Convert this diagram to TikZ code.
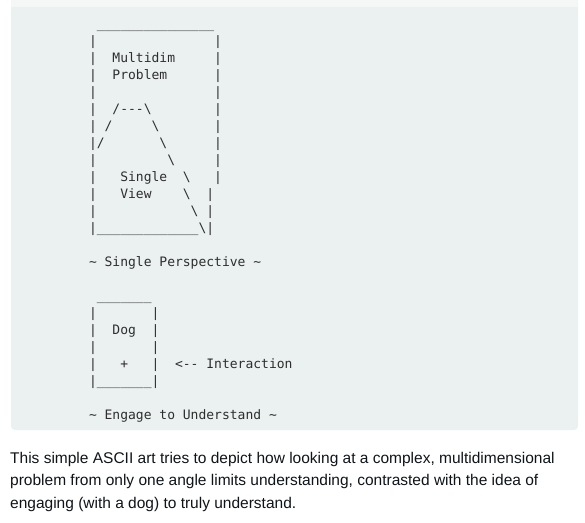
\documentclass[tikz,border=0pt]{standalone}
\usepackage{fontspec}
\setmainfont{Liberation Sans}
\setmonofont{DejaVu Sans Mono}
\usetikzlibrary{positioning}

\definecolor{codebg}{HTML}{EBF0F0}
\definecolor{barbg}{HTML}{F5F7F7}
\definecolor{codefg}{HTML}{2E2E2E}
\definecolor{bodyfg}{HTML}{0F1419}

\begin{document}
\begin{tikzpicture}[x=1pt,y=-1pt,
  every node/.style={inner sep=0pt,anchor=base west},
  ascii/.style={font=\ttfamily\fontsize{13}{17}\selectfont,text=codefg},
  prose/.style={font=\fontsize{15.5}{22}\selectfont,text=bodyfg}]
\useasboundingbox (0,0) rectangle (585,522);
\fill[codebg,rounded corners=4pt] (11,-10) rectangle (578,430);
\fill[barbg] (11,0) rectangle (578,7);

% the many-sided problem, seen from one side
\node[ascii] (lid)    at (88.8,28)  {~\_\_\_\_\_\_\_\_\_\_\_\_\_\_\_};
\node[ascii] (side1)  at (88.8,45)  {|~~~~~~~~~~~~~~~|};
\node[ascii] (multi)  at (88.8,62)  {|~~Multidim~~~~~|};
\node[ascii] (prob)   at (88.8,79)  {|~~Problem~~~~~~|};
\node[ascii] (side2)  at (88.8,96)  {|~~~~~~~~~~~~~~~|};
\node[ascii] (peak)   at (88.8,113) {|~~/---\textbackslash~~~~~~~~|};
\node[ascii] (slopeA) at (88.8,130) {|~/~~~~~\textbackslash~~~~~~~|};
\node[ascii] (slopeB) at (88.8,147) {|/~~~~~~~\textbackslash~~~~~~|};
\node[ascii] (slopeC) at (88.8,164) {|~~~~~~~~~\textbackslash~~~~~|};
\node[ascii] (single) at (88.8,181) {|~~~Single~~\textbackslash~~~|};
\node[ascii] (view)   at (88.8,198) {|~~~View~~~~\textbackslash~~|};
\node[ascii] (slopeD) at (88.8,215) {|~~~~~~~~~~~~\textbackslash~|};
\node[ascii] (base)   at (88.8,232) {|\_\_\_\_\_\_\_\_\_\_\_\_\_\textbackslash|};
\node[ascii] (persp)  at (88.8,266) {\textasciitilde~Single~Perspective~\textasciitilde};

% the dog
\node[ascii] (doglid)   at (88.8,300) {~\_\_\_\_\_\_\_};
\node[ascii] (dogside1) at (88.8,317) {|~~~~~~~|};
\node[ascii] (dog)      at (88.8,334) {|~~Dog~~|};
\node[ascii] (dogside2) at (88.8,351) {|~~~~~~~|};
\node[ascii] (plus)     at (88.8,368) {|~~~+~~~|~~<--~Interaction};
\node[ascii] (dogbase)  at (88.8,385) {|\_\_\_\_\_\_\_|};
\node[ascii] (engage)   at (88.8,419) {\textasciitilde~Engage~to~Understand~\textasciitilde};

% caption under the block
\node[prose] (para1) at (10,463.5) {This simple ASCII art tries to depict how looking at a complex, multidimensional};
\node[prose] (para2) at (10,485.8) {problem from only one angle limits understanding, contrasted with the idea of};
\node[prose] (para3) at (10,508)   {engaging (with a dog) to truly understand.};
\end{tikzpicture}
\end{document}
